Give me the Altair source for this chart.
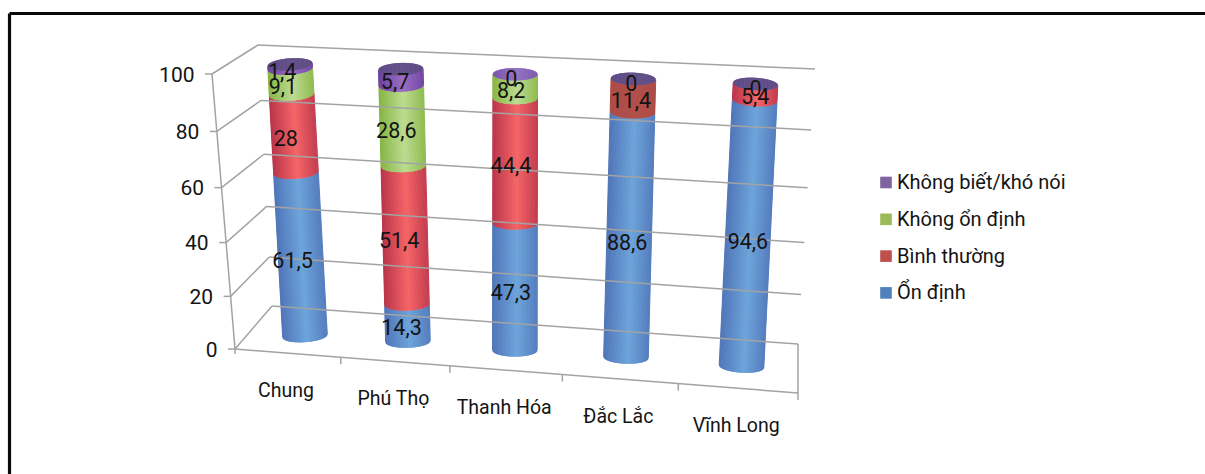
import math
import altair as alt
import pandas as pd

# --- Chart values -------------------------------------------------------
categories = ["Chung", "Phú Thọ", "Thanh Hóa", "Đắc Lắc", "Vĩnh Long"]
series_names = ["Ổn định", "Bình thường", "Không ổn định", "Không biết/khó nói"]
on_dinh = [61.5, 14.3, 47.3, 88.6, 94.6]
binh_thuong = [28, 51.4, 44.4, 11.4, 5.4]
khong_on_dinh = [9.1, 28.6, 8.2, 0, 0]
khong_biet = [1.4, 5.7, 0, 0, 0]
value_labels = [
    ["61,5", "14,3", "47,3", "88,6", "94,6"],
    ["28", "51,4", "44,4", "11,4", "5,4"],
    ["9,1", "28,6", "8,2", "", ""],
    ["1,4", "5,7", "0", "0", "0"],
]
tick_values = [0, 20, 40, 60, 80, 100]

W, H = 1205, 474
FONT = "Roboto"
TEXT = "#141414"
GRID = "#A3A3A3"


# --- Perspective helpers ------------------------------------------------
def persp(f, k):
    """Foreshortened position along an edge, f and the result both in 0..1."""
    return f / (f + (1 - f) * k) if f > 0 else 0.0


def lerp(a, b, t):
    return a + (b - a) * t


# Edges of the box at value 0 and value 100: (x, y) pairs
FRONT_LEFT = ((235, 349), (212, 74))
BACK_LEFT = ((272, 306), (258, 45))
BACK_RIGHT = ((798, 344), (815, 69))
FLOOR_RIGHT = (798, 393)


def edge_point(edge, v, k=1.056):
    t = persp(v / 100, k)
    return lerp(edge[0][0], edge[1][0], t), lerp(edge[0][1], edge[1][1], t)


def floor_point(f):
    t = persp(f, 1.08)
    return lerp(FRONT_LEFT[0][0], FLOOR_RIGHT[0], t), lerp(FRONT_LEFT[0][1], FLOOR_RIGHT[1], t)


# Cylinder axes: centre of the base and of the top over the five positions
BASE_X, BASE_Y = (305, 741.5), (336, 366)
TOP_X, TOP_Y = (290, 755.5), (64.5, 84)
BASE_NUDGE = [0, -1.5, 0, -0.5, 0.5]
HALF_W, HALF_H = 22.3, 6.2


def axis_point(i, v):
    f = i / 4
    bx = lerp(*BASE_X, persp(f, 1.08))
    by = lerp(*BASE_Y, persp(f, 1.08)) + BASE_NUDGE[i]
    tx = lerp(*TOP_X, persp(f, 1.067))
    ty = lerp(*TOP_Y, persp(f, 1.067))
    t = persp(v / 100, 1.056)
    return lerp(bx, tx, t), lerp(by, ty, t), (tx - bx) / (by - ty) * 1.2


def rim(i, v, u, front=True):
    cx, cy, tilt = axis_point(i, v)
    arc = math.sqrt(max(0.0, 1 - u * u)) * HALF_H
    x = cx + u * HALF_W
    y = cy + u * HALF_W * tilt + (arc if front else -arc)
    return x, y


def shade(edge, centre, u):
    m = 1 - abs(u - 0.1) / 1.1
    a = [int(edge[j:j + 2], 16) for j in (1, 3, 5)]
    b = [int(centre[j:j + 2], 16) for j in (1, 3, 5)]
    return "#%02x%02x%02x" % tuple(round(lerp(p, q, m)) for p, q in zip(a, b))


# Side shading of each series: colour at the rim, colour at the highlight
BODY_SHADES = [
    ("#4f74b8", "#6ca4da"),
    ("#b9334a", "#f56465"),
    ("#85b542", "#bcdc90"),
    ("#6a3f9e", "#9a6cc4"),
]
BODY_OVERRIDE = {(3, 1): ("#ac4a45", "#b14e48")}
CAP_SHADES = [("#5e4a87", "#635088")] * 5
CAP_SHADES[2] = ("#7a54b0", "#9272bf")

series = [on_dinh, binh_thuong, khong_on_dinh, khong_biet]
STRIPS = 100

# Each cylinder is painted as thin vertical strips between the rims
strips, labels = [], []
for i, cat in enumerate(categories):
    start = 0.0
    for s, values in enumerate(series):
        v = values[i]
        end = start + v
        if v > 0:
            edge, centre = BODY_OVERRIDE.get((i, s), BODY_SHADES[s])
            for n in range(STRIPS + 1):
                u = -1 + 2 * n / STRIPS
                x0, y0 = rim(i, start, u)
                x1, y1 = rim(i, end, u)
                strips.append(dict(x=x0, y=y0, x2=x1, y2=y1, c=shade(edge, centre, u)))
        if value_labels[s][i]:
            cx, cy, _ = axis_point(i, (start + end) / 2)
            labels.append(dict(x=cx - 8 + 2 * i, y=cy + 6, t=value_labels[s][i]))
        start = end
    edge, centre = CAP_SHADES[i]
    for n in range(STRIPS + 1):
        u = -1 + 2 * n / STRIPS
        x0, y0 = rim(i, start, u)
        x1, y1 = rim(i, start, u, front=False)
        strips.append(dict(x=x0, y=y0, x2=x1, y2=y1, c=shade(edge, centre, u)))

# Box lines: walls, value gridlines, tick marks
lines = []


def seg(a, b):
    lines.append(dict(x=a[0], y=a[1], x2=b[0], y2=b[1]))


seg(edge_point(FRONT_LEFT, 0), edge_point(FRONT_LEFT, 100))
seg(FRONT_LEFT[0], FLOOR_RIGHT)
seg(BACK_RIGHT[0], (FLOOR_RIGHT[0], FLOOR_RIGHT[1] + 7))
seg(FRONT_LEFT[0], (FRONT_LEFT[0][0], FRONT_LEFT[0][1] + 5))
for i in range(1, 5):
    p = floor_point(i / 5)
    seg(p, (p[0], p[1] + 7))
tick_rows = []
for v in tick_values:
    fl = edge_point(FRONT_LEFT, v)
    bl = edge_point(BACK_LEFT, v, 1.08)
    br = edge_point(BACK_RIGHT, v, 1.14)
    seg((fl[0] - 7, fl[1]), fl)
    seg(fl, bl)
    seg(bl, br)
    tick_rows.append(dict(x=fl[0] - 17.5, y=fl[1] + 1.5, t=str(v)))

cat_rows = []
for i, cat in enumerate(categories):
    p = floor_point((i + 0.5) / 5)
    cat_rows.append(dict(x=p[0] - 1.5, y=p[1] + 37.5, t=cat))

# Legend, listed top-down in reverse stacking order
legend_colors = ["#8064a2", "#9bbb59", "#c0504d", "#4f81bd"]
LEGEND_X, LEGEND_Y, LEGEND_STEP = 886, 182.5, 36.8
legend_rows = [
    dict(x=LEGEND_X, y=LEGEND_Y + LEGEND_STEP * n, t=name, c=legend_colors[n])
    for n, name in enumerate(reversed(series_names))
]

frame_rows = [dict(x=9.5, y=13.5, x2=W, y2=13.5), dict(x=9.5, y=13.5, x2=9.5, y2=H)]

X = alt.X("x:Q", scale=alt.Scale(domain=[0, W], nice=False, zero=False), axis=None)
Y = alt.Y("y:Q", scale=alt.Scale(domain=[H, 0], nice=False, zero=False), axis=None)


def rules(rows, **mark):
    return (
        alt.Chart(pd.DataFrame(rows))
        .mark_rule(**mark)
        .encode(X, Y, x2="x2:Q", y2="y2:Q")
    )


cylinders = (
    alt.Chart(pd.DataFrame(strips))
    .mark_rule(strokeWidth=1.0)
    .encode(X, Y, x2="x2:Q", y2="y2:Q", color=alt.Color("c:N", scale=None))
)


def texts(rows, **mark):
    return (
        alt.Chart(pd.DataFrame(rows))
        .mark_text(font=FONT, color=TEXT, **mark)
        .encode(X, Y, text="t:N")
    )


legend_swatches = (
    alt.Chart(pd.DataFrame(legend_rows))
    .mark_square(size=135, opacity=1, filled=True)
    .encode(X, Y, color=alt.Color("c:N", scale=None))
)
legend_text = (
    alt.Chart(pd.DataFrame(legend_rows))
    .mark_text(font=FONT, color=TEXT, fontSize=20, align="left", baseline="middle", dx=11, dy=0.5)
    .encode(X, Y, text="t:N")
)

chart = (
    alt.layer(
        rules(frame_rows, color="#0a0a0a", strokeWidth=3.2),
        cylinders,
        rules(lines, color=GRID, strokeWidth=1.5),
        texts(tick_rows, fontSize=21, align="right", baseline="middle"),
        texts(cat_rows, fontSize=19.5, align="center", baseline="middle"),
        texts(labels, fontSize=21.5, align="center", baseline="middle"),
        legend_swatches,
        legend_text,
    )
    .properties(width=W, height=H, padding=0, autosize=alt.AutoSizeParams(type="none"), background="white")
    .configure_view(stroke=None)
)

chart.save("out.html", embed_options={"renderer": "svg", "actions": False})
